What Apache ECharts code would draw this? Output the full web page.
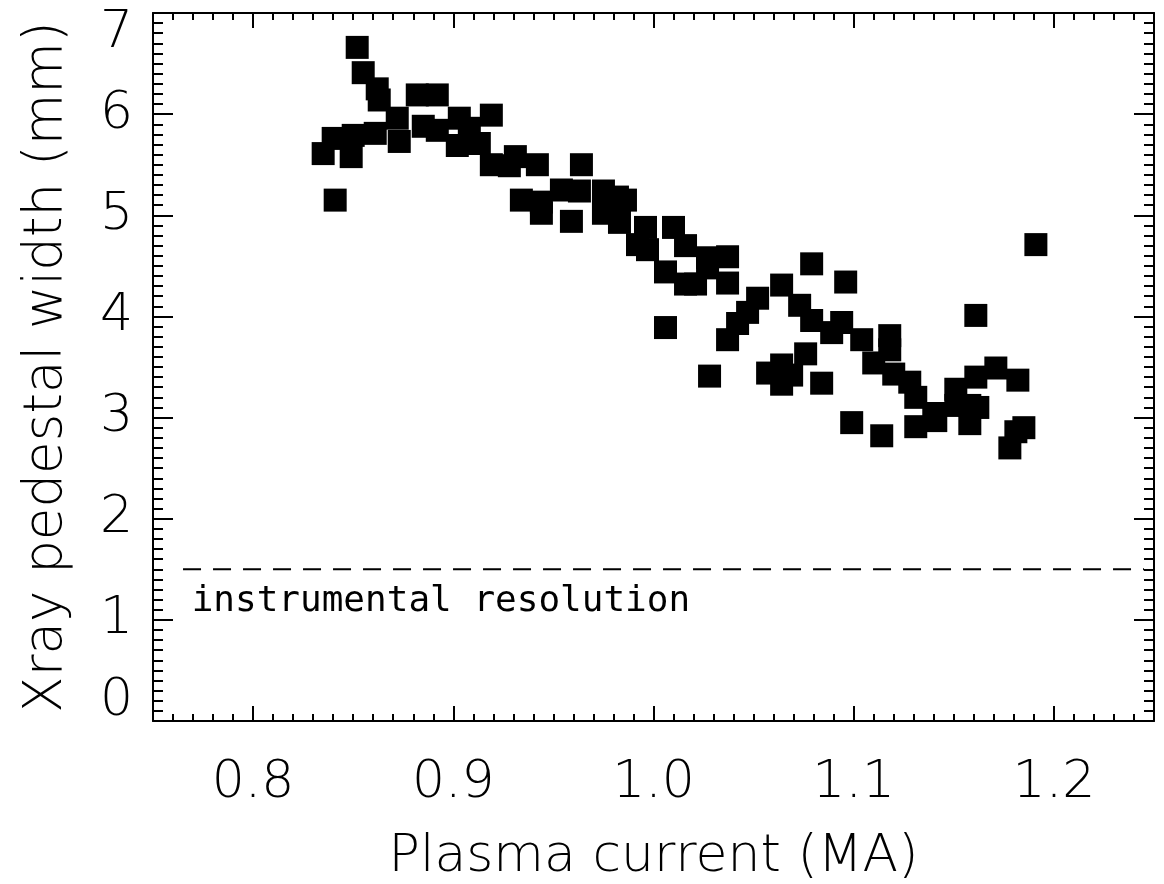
<!DOCTYPE html>
<html>
<head>
<meta charset="utf-8">
<script src="https://cdn.jsdelivr.net/npm/echarts@6/dist/echarts.min.js"></script>
<style>
  html, body { margin: 0; padding: 0; background: #fff; }
  #chart { width: 1164px; height: 884px; }
</style>
</head>
<body>
<div id="chart"></div>
<script>
// Plasma current (MA) of each shot
const plasmaCurrent = [
  0.852, 0.855, 0.862, 0.863, 0.835, 0.840, 0.841, 0.849, 0.850, 0.861,
  0.872, 0.873, 0.882, 0.892, 0.885, 0.892, 0.902, 0.903, 0.908, 0.919,
  0.913, 0.919, 0.931, 0.928, 0.942, 0.934, 0.944, 0.944, 0.954, 0.959,
  0.963, 0.964, 0.975, 0.975, 0.982, 0.986, 0.983, 0.996, 0.992, 0.997,
  1.010, 1.016, 1.006, 1.016, 1.021, 1.027, 1.027, 1.037, 1.037, 1.006,
  1.028, 1.037, 1.042, 1.047, 1.052, 1.064, 1.073, 1.079, 1.089, 1.094,
  1.079, 1.096, 1.057, 1.064, 1.064, 1.069, 1.076, 1.084, 1.099, 1.104,
  1.118, 1.118, 1.110, 1.120, 1.128, 1.131, 1.140, 1.141, 1.131, 1.151,
  1.151, 1.158, 1.158, 1.162, 1.161, 1.171, 1.182, 1.161, 1.178, 1.185,
  1.181, 1.114, 1.191
];
// X-ray pedestal width (mm) of each shot
const pedestalWidth = [
  6.66, 6.41, 6.25, 6.14, 5.61, 5.76, 5.15, 5.58, 5.79, 5.81,
  5.96, 5.73, 6.19, 6.19, 5.88, 5.84, 5.69, 5.96, 5.86, 5.99,
  5.71, 5.50, 5.58, 5.49, 5.50, 5.15, 5.13, 5.02, 5.25, 4.94,
  5.24, 5.50, 5.24, 5.02, 5.18, 5.15, 4.93, 4.88, 4.71, 4.66,
  4.88, 4.70, 4.44, 4.32, 4.32, 4.58, 4.48, 4.59, 4.33, 3.89,
  3.41, 3.77, 3.93, 4.04, 4.18, 4.31, 4.11, 3.96, 3.84, 3.94,
  4.52, 4.34, 3.44, 3.52, 3.33, 3.42, 3.63, 3.34, 2.95, 3.77,
  3.81, 3.67, 3.54, 3.43, 3.35, 3.20, 3.04, 2.97, 2.91, 3.28,
  3.12, 3.12, 2.94, 3.10, 3.40, 3.49, 3.37, 4.01, 2.70, 2.90,
  2.86, 2.82, 4.71
];

// Instrumental resolution limit (mm) and the span of its reference line
const resolutionLevel = 1.5;
const resolutionSpan = [0.765, 1.245];
const resolutionText = 'instrumental resolution';
const resolutionTextAnchor = [0.7693, 1.18];

// Axis ranges and tick labels
const xRange = [0.75, 1.25];
const yRange = [0, 7];
const xMajorTicks = [0.8, 0.9, 1.0, 1.1, 1.2];

const xTitle = 'Plasma current (MA)';
const yTitle = 'Xray pedestal width (mm)';

const INK = '#000';
const FONT = 'DejaVu Sans';
const FONT_WEIGHT = 200;

const chart = echarts.init(document.getElementById('chart'), null, { renderer: 'canvas' });

const tickLine = { color: INK, width: 2 };

function xAxisMinor(position) {
  return {
    type: 'value', position, min: xRange[0], max: xRange[1], interval: 0.01,
    axisLine: { show: true, onZero: false, lineStyle: { color: INK, width: 2 } },
    axisTick: { show: true, inside: true, length: 7, lineStyle: tickLine },
    axisLabel: { show: false },
    splitLine: { show: false }
  };
}
function xAxisMajor(position, withLabels) {
  const axis = {
    type: 'value', position, min: xRange[0], max: xRange[1],
    axisLine: { show: false, onZero: false },
    axisTick: { show: true, inside: true, length: 15, lineStyle: tickLine, customValues: xMajorTicks },
    axisLabel: {
      show: withLabels, customValues: xMajorTicks, margin: 36,
      formatter: v => v.toFixed(1),
      color: INK, fontFamily: FONT, fontWeight: FONT_WEIGHT, fontSize: 52
    },
    splitLine: { show: false }
  };
  if (withLabels) {
    axis.name = xTitle;
    axis.nameLocation = 'middle';
    axis.nameGap = 110;
    axis.nameTextStyle = { color: INK, fontFamily: FONT, fontWeight: FONT_WEIGHT, fontSize: 52 };
  }
  return axis;
}
function yAxisDef(position, withLabels) {
  const axis = {
    type: 'value', position, min: yRange[0], max: yRange[1], interval: 1,
    axisLine: { show: true, onZero: false, lineStyle: { color: INK, width: 2 } },
    axisTick: { show: true, inside: true, length: 20, lineStyle: tickLine },
    minorTick: { show: true, splitNumber: 10, length: 10, lineStyle: tickLine },
    axisLabel: {
      show: withLabels, margin: 20, color: INK, fontFamily: FONT, fontWeight: FONT_WEIGHT, fontSize: 52,
      lineHeight: 40,
      verticalAlignMinLabel: 'bottom', verticalAlignMaxLabel: 'top'
    },
    splitLine: { show: false },
    minorSplitLine: { show: false }
  };
  if (withLabels) {
    axis.name = yTitle;
    axis.nameLocation = 'middle';
    axis.nameGap = 79;
    axis.nameTextStyle = { color: INK, fontFamily: FONT, fontWeight: FONT_WEIGHT, fontSize: 53 };
  }
  return axis;
}

const points = plasmaCurrent.map((x, i) => [x, pedestalWidth[i]]);

chart.setOption({
  animation: false,
  backgroundColor: '#fff',
  grid: { left: 153, right: 10, top: 13, bottom: 163, containLabel: false, outerBoundsMode: 'none' },
  xAxis: [
    xAxisMinor('bottom'),
    xAxisMajor('bottom', true),
    xAxisMinor('top'),
    xAxisMajor('top', false)
  ],
  yAxis: [
    yAxisDef('left', true),
    yAxisDef('right', false)
  ],
  series: [
    {
      type: 'line',
      xAxisIndex: 0, yAxisIndex: 0,
      data: resolutionSpan.map(x => [x, resolutionLevel]),
      symbol: 'none',
      lineStyle: { color: INK, width: 2, type: [18, 12], opacity: 1 },
      silent: true,
      z: 1
    },
    {
      type: 'scatter',
      xAxisIndex: 0, yAxisIndex: 0,
      data: [resolutionTextAnchor],
      symbolSize: 0,
      silent: true,
      itemStyle: { opacity: 1 },
      label: {
        show: true, position: 'right', distance: 0,
        formatter: () => resolutionText,
        color: INK, fontFamily: 'DejaVu Sans Mono', fontSize: 36
      },
      z: 1
    },
    {
      type: 'scatter',
      xAxisIndex: 0, yAxisIndex: 0,
      data: points,
      symbol: 'rect',
      symbolSize: 23,
      itemStyle: { color: INK, opacity: 1 },
      z: 2
    }
  ]
});
</script>
</body>
</html>
